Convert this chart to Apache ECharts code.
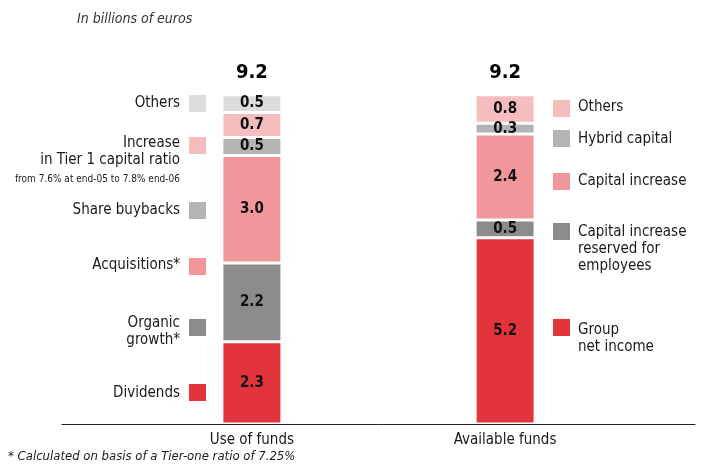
<!DOCTYPE html>
<html>
<head>
<meta charset="utf-8">
<title>Use of funds / Available funds</title>
<script src="https://cdn.jsdelivr.net/npm/echarts@6/dist/echarts.min.js"></script>
<style>
    html, body { margin: 0; padding: 0; background: #fff; }
    #chart { width: 701px; height: 465px; }
</style>
</head>
<body>
<div id="chart"></div>
<script>
// data
var categories = ['Use of funds', 'Available funds'];
var useItems = ['Dividends', 'Organic growth*', 'Acquisitions*', 'Share buybacks', 'Increase in Tier 1 capital ratio', 'Others'];
var useValues = [2.3, 2.2, 3.0, 0.5, 0.7, 0.5];
var availItems = ['Group net income', 'Capital increase reserved for employees', 'Capital increase', 'Hybrid capital', 'Others'];
var availValues = [5.2, 0.5, 2.4, 0.3, 0.8];
var totals = [9.2, 9.2];

// styles
var useColors = ['#e3333b', '#8b8b8d', '#f1969a', '#b3b3b5', '#f6bdbf', '#dcdcdd'];
var availColors = ['#e3333b', '#8b8b8d', '#f1969a', '#b3b3b5', '#f6bdbf'];
var FONT = "'Liberation Sans Narrow', 'Arial Narrow', 'DejaVu Sans Condensed', sans-serif";

// legend layout (swatch tops) and label lines
var useSwatchTop = [384, 319, 258, 202, 137, 95];
var useLabels = [
    { lines: ['Dividends'], y: 393 },
    { lines: ['Organic', 'growth*'], y: 323 },
    { lines: ['Acquisitions*'], y: 265 },
    { lines: ['Share buybacks'], y: 210 },
    { lines: ['Increase', 'in Tier 1 capital ratio'], note: 'from 7.6% at end-05 to 7.8% end-06', y: 143 },
    { lines: ['Others'], y: 103 }
];
var availSwatchTop = [319, 223, 173, 130, 100];
var availLabels = [
    { lines: ['Group', 'net income'], y: 330 },
    { lines: ['Capital increase', 'reserved for', 'employees'], y: 232 },
    { lines: ['Capital increase'], y: 181 },
    { lines: ['Hybrid capital'], y: 139 },
    { lines: ['Others'], y: 107 }
];

// 5 slots on the category axis, bars sit in slot 1 and 3
var slots = ['', categories[0], '', categories[1], ''];
var useSlot = 1, availSlot = 3;

function slotData(slot, v) {
    return slots.map(function (s, j) { return j === slot ? v : '-'; });
}

var series = [];
var legends = [];
var graphics = [];

function addGroup(items, values, colors, slot, tag, swatchX, swatchTop, labels, textX, align) {
    for (var i = 0; i < items.length; i++) {
        var name = items[i] + ' (' + tag + ')';
        series.push({
            name: name,
            type: 'bar',
            stack: 'funds',
            barWidth: 60,
            data: slotData(slot, values[i]),
            itemStyle: { color: colors[i], borderColor: '#fff', borderWidth: 1.5 },
            label: {
                show: true,
                position: 'inside',
                color: '#111',
                fontFamily: FONT,
                fontWeight: 'bold',
                fontSize: 15,
                formatter: function (p) { return Number(p.value).toFixed(1); }
            }
        });
        legends.push({
            data: [name],
            left: swatchX,
            top: swatchTop[i],
            padding: 0,
            icon: 'rect',
            itemWidth: 17,
            itemHeight: 17,
            selectedMode: false,
            itemStyle: { borderWidth: 0 },
            formatter: function () { return ''; }
        });
        var lab = labels[i];
        for (var k = 0; k < lab.lines.length; k++) {
            graphics.push({
                type: 'text',
                x: textX,
                y: lab.y + k * 17,
                style: {
                    text: lab.lines[k],
                    fill: '#1a1a1a',
                    font: '15px ' + FONT,
                    textAlign: align,
                    textVerticalAlign: 'middle'
                }
            });
        }
        if (lab.note) {
            graphics.push({
                type: 'text',
                x: textX,
                y: lab.y + lab.lines.length * 18,
                style: {
                    text: lab.note,
                    fill: '#1a1a1a',
                    font: '10px ' + FONT,
                    textAlign: align,
                    textVerticalAlign: 'middle'
                }
            });
        }
    }
}

addGroup(useItems, useValues, useColors, useSlot, 'use', 189, useSwatchTop, useLabels, 180, 'right');
addGroup(availItems, availValues, availColors, availSlot, 'sources', 553, availSwatchTop, availLabels, 578, 'left');

// totals: an empty cap on each stack carries the total above the bar
var totalData = slots.map(function (s, j) {
    return j === useSlot || j === availSlot ? 0 : '-';
});
series.push({
    name: 'Total',
    type: 'bar',
    stack: 'funds',
    barWidth: 60,
    data: totalData,
    itemStyle: { color: 'rgba(0,0,0,0)', borderWidth: 0 },
    label: {
        show: true,
        position: 'top',
        distance: 12,
        color: '#000',
        fontFamily: FONT,
        fontWeight: 'bold',
        fontSize: 20,
        formatter: function (p) {
            return totals[p.dataIndex === useSlot ? 0 : 1].toFixed(1);
        }
    }
});

graphics.push({
    type: 'text',
    x: 77,
    y: 19,
    style: {
        text: 'In billions of euros',
        fill: '#333',
        font: 'italic 14px ' + FONT,
        textAlign: 'left',
        textVerticalAlign: 'middle'
    }
});
graphics.push({
    type: 'text',
    x: 8,
    y: 457,
    style: {
        text: '* Calculated on basis of a Tier-one ratio of 7.25%',
        fill: '#1a1a1a',
        font: 'italic 13px ' + FONT,
        textAlign: 'left',
        textVerticalAlign: 'middle'
    }
});

var chart = echarts.init(document.getElementById('chart'));
chart.setOption({
    animation: false,
    grid: { left: 62, right: 6, top: 66, bottom: 41 },
    xAxis: {
        type: 'category',
        data: slots,
        axisLine: { lineStyle: { color: '#222', width: 1 } },
        axisTick: { show: false },
        axisLabel: {
            color: '#1a1a1a',
            fontFamily: FONT,
            fontSize: 15,
            margin: 9,
            interval: 0
        }
    },
    yAxis: {
        type: 'value',
        min: 0,
        max: 10,
        show: false
    },
    legend: legends,
    graphic: graphics,
    series: series
});
</script>
</body>
</html>
